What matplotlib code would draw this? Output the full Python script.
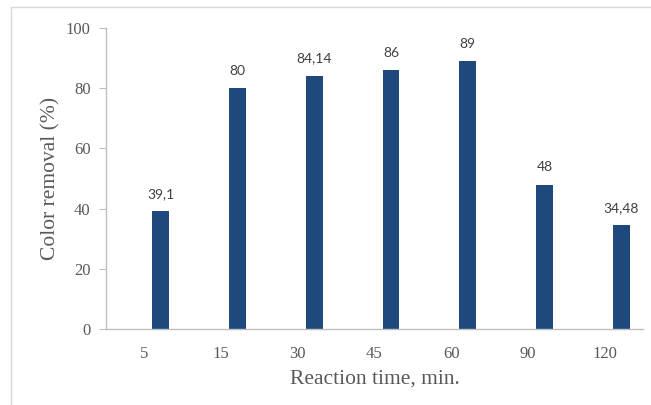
import numpy as np
import matplotlib.pyplot as plt
from matplotlib.lines import Line2D

# Data
times = ["5", "15", "30", "45", "60", "90", "120"]
removal = [39.1, 80, 84.14, 86, 89, 48, 34.48]
labels = ["39,1", "80", "84,14", "86", "89", "48", "34,48"]

bar_color = "#1F497D"
axis_color = "#BFBFBF"
text_color = "#595959"

fig = plt.figure(figsize=(6.51, 4.05), dpi=100)
ax = fig.add_axes([0.1628, 0.1877, 0.8249, 0.7432])

# frame around the chart (left and top edges visible)
fig.add_artist(Line2D([11 / 651, 11 / 651], [0, 1 - 7 / 405], transform=fig.transFigure,
                      color="#D9D9D9", linewidth=1))
fig.add_artist(Line2D([11 / 651, 1], [1 - 7 / 405, 1 - 7 / 405], transform=fig.transFigure,
                      color="#D9D9D9", linewidth=1))

x = np.arange(len(times))
bars = ax.bar(x + 0.215, removal, width=0.22, color=bar_color)

for b, lab in zip(bars, labels):
    ax.annotate(lab, (b.get_x() + b.get_width() / 2, b.get_height()),
                xytext=(0, 8), textcoords="offset points", ha="center", va="bottom",
                fontsize=10, color="#404040", family="Lato")

ax.set_xlim(-0.5, len(times) - 0.5)
ax.set_ylim(0, 100)
ax.set_yticks(np.arange(0, 101, 20))
ax.set_xticks(x)
ax.set_xticklabels(times)

for s in ["top", "right"]:
    ax.spines[s].set_visible(False)
for s in ["left", "bottom"]:
    ax.spines[s].set_color(axis_color)
    ax.spines[s].set_linewidth(1)

ax.tick_params(axis="y", direction="out", length=5, color=axis_color, pad=6,
               labelsize=12, labelcolor=text_color)
ax.tick_params(axis="x", length=0, pad=12, labelsize=12, labelcolor=text_color)
for t in ax.get_xticklabels() + ax.get_yticklabels():
    t.set_family("Liberation Serif")

ax.set_xlabel("Reaction time, min.", family="Liberation Serif", fontsize=15.5,
              color=text_color, labelpad=6)
ax.set_ylabel("Color removal (%)", family="Liberation Serif", fontsize=15.5,
              color=text_color, labelpad=4)

fig.savefig("out.png", dpi=100)
